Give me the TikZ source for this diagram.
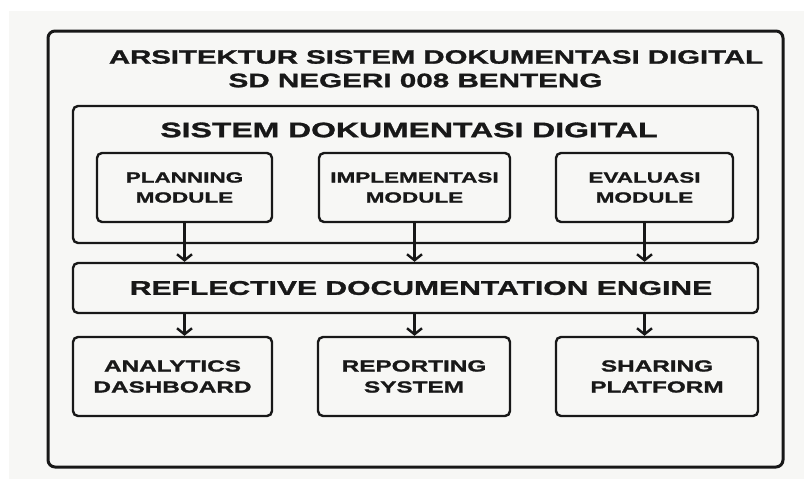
\documentclass[tikz,border=0pt]{standalone}
\usepackage{fontspec}
\setmainfont{Liberation Sans}[FakeStretch=1.52,BoldFeatures={FakeBold=1.4}]
\usepackage{tikz}
\usetikzlibrary{arrows.meta}
\definecolor{paper}{RGB}{247,247,245}
\definecolor{ink}{RGB}{24,24,24}
\tikzset{
	box/.style={draw=ink,line width=2.4pt,rounded corners=5pt,fill=paper,text=ink,
		inner sep=0pt,align=center,font=\bfseries\fontsize{14.8}{20}\selectfont},
	flow/.style={draw=ink,line width=2.4pt,-{Straight Barb[length=6pt,width=15pt,line width=2.4pt]}},
	heading/.style={text=ink,inner sep=0pt,font=\bfseries\fontsize{#1}{#1}\selectfont},
}

\begin{document}
\begin{tikzpicture}[x=1pt,y=-1pt]
	% page and paper background
	\useasboundingbox (0,0) rectangle (804,479);
	\fill[white] (0,0) rectangle (804,479);
	\fill[paper] (9,11) rectangle (804,479);
	
	% outer frame with the two title lines
	\node[box,line width=3pt,rounded corners=7pt,minimum width=735pt,minimum height=436pt] (frame) at (415.5,249) {};
	\node[heading=19.3] (title) at (436,57) {ARSITEKTUR SISTEM DOKUMENTASI DIGITAL};
	\node[heading=19.5] (subtitle) at (415.5,80.5) {SD NEGERI 008 BENTENG};
	
	% digital documentation system and its three modules
	\node[box,minimum width=685pt,minimum height=137pt] (system) at (415.5,174.5) {};
	\node[heading=21] (systitle) at (409,130) {SISTEM DOKUMENTASI DIGITAL};
	\node[box,minimum width=175pt,minimum height=69pt] (plan) at (184.5,187.5) {PLANNING\\MODULE};
	\node[box,minimum width=191pt,minimum height=69pt] (impl) at (414.5,187.5) {IMPLEMENTASI\\MODULE};
	\node[box,minimum width=177pt,minimum height=69pt] (eval) at (644.5,187.5) {EVALUASI\\MODULE};
	
	% engine in the middle
	\node[box,minimum width=685pt,minimum height=50pt] (engine) at (415.5,288) {};
	\node[heading=19.8] (enginetitle) at (421,288) {REFLECTIVE DOCUMENTATION ENGINE};
	
	% outputs
	\node[box,font=\bfseries\fontsize{16}{21}\selectfont,minimum width=199pt,minimum height=79pt] (dash) at (172.5,376.5) {ANALYTICS\\DASHBOARD};
	\node[box,font=\bfseries\fontsize{16}{21}\selectfont,minimum width=192pt,minimum height=79pt] (report) at (414,376.5) {REPORTING\\SYSTEM};
	\node[box,font=\bfseries\fontsize{16}{21}\selectfont,minimum width=202pt,minimum height=79pt] (share) at (657,376.5) {SHARING\\PLATFORM};
	
	% arrows: modules down to the engine, engine down to the outputs
	\foreach \m/\o in {plan/dash,impl/report,eval/share}{
		\draw[flow] (\m.south) -- (\m.south |- engine.north);
		\draw[flow] (\m.south |- engine.south) -- (\m.south |- \o.north);
	}
\end{tikzpicture}
\end{document}
